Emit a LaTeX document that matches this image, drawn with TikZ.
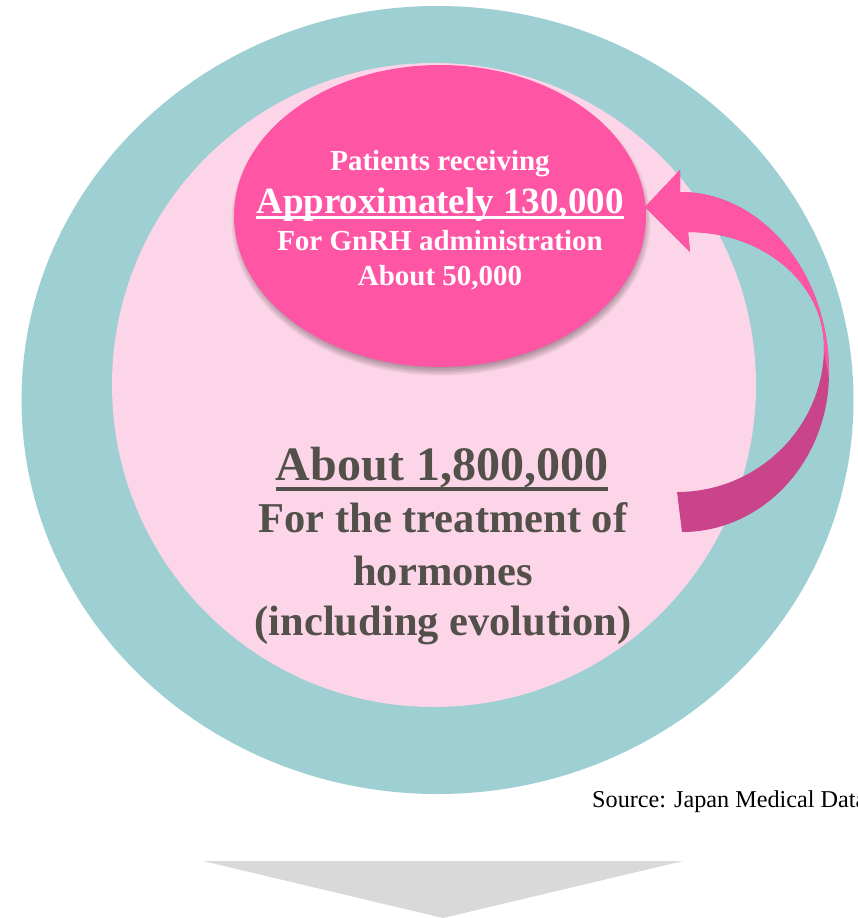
\documentclass[tikz,border=0pt]{standalone}
\usepackage{fontspec}
\setmainfont{Liberation Serif}

\definecolor{ringteal}{RGB}{157,207,211}
\definecolor{softpink}{RGB}{253,213,232}
\definecolor{hotpink}{RGB}{255,85,165}
\definecolor{deeppink}{RGB}{201,68,138}
\definecolor{inkgray}{RGB}{82,80,72}
\definecolor{arrowgray}{RGB}{217,217,217}

% underline with a chosen thickness (#1) and depth of its lower edge (#2)
\newcommand\thickul[3]{\setbox0=\hbox{#3}\rlap{\rule[-#2]{\wd0}{#1}}\box0}

\tikzset{
  bigline/.style={anchor=base, inner sep=0pt, text=inkgray,
    font=\bfseries\fontsize{42.5}{50}\selectfont},
  headline/.style={anchor=base, inner sep=0pt, text=inkgray,
    font=\bfseries\fontsize{48}{54}\selectfont},
  ovalline/.style={anchor=base, inner sep=0pt, text=white,
    font=\bfseries\fontsize{29}{34}\selectfont},
  ovalhead/.style={anchor=base, inner sep=0pt, text=white,
    font=\bfseries\fontsize{37}{42}\selectfont},
  note/.style={anchor=base west, inner sep=0pt, text=black,
    font=\fontsize{24.2}{27}\selectfont}
}

\begin{document}
\begin{tikzpicture}[x=1pt,y=-1pt]
\clip (0,0) rectangle (857,918);
\fill[white] (0,0) rectangle (857,918);

% outer ring and inner disc
\fill[ringteal] (437.5,400) ellipse [x radius=416pt, y radius=394pt];
\fill[softpink] (434,385) circle [radius=322pt];

% soft shadow under the oval
\foreach \d in {-3,-1.5,0,1.5,3,4.5}
  \fill[black, opacity=0.06] (441,221) ellipse [x radius={205pt+\d pt}, y radius={150pt+\d pt}];
\fill[hotpink] (440,216) ellipse [x radius=206pt, y radius=151pt];

% oval text
\node[ovalline] (pr) at (440,170) {Patients receiving};
\node[ovalhead] (ap) at (440,213) {\thickul{2.5pt}{5.5pt}{Approximately 130,000}};
\node[ovalline] (gn) at (440,250) {For GnRH administration};
\node[ovalline] (fz) at (440,285) {About 50,000};

% main text
\node[headline] (ab) at (442,480) {\thickul{4pt}{10.5pt}{About 1,800,000}};
\node[bigline] (tr) at (443,532) {For the treatment of};
\node[bigline] (ho) at (443,585) {hormones};
\node[bigline] (ie) at (443,635) {(including evolution)};

% twisted ribbon arrow: dark back face
\fill[deeppink] (682,532) .. controls (763,532) and (829,461) .. (829,373)
  .. controls (829,273) and (762,192) .. (680,192) -- (680,170) -- (645,207)
  -- (690,252) -- (688,232) .. controls (763,232) and (824,283) .. (824,347)
  .. controls (824,427) and (758,492) .. (677,492) -- cycle;
% bright front face
\begin{scope}
  \clip (600,140) -- (880,140) -- (880,380) -- (829,378) -- (821,335) -- (600,335) -- cycle;
  \fill[hotpink] (682,532) .. controls (763,532) and (829,461) .. (829,373)
    .. controls (829,273) and (762,192) .. (680,192) -- (680,170) -- (645,207)
    -- (690,252) -- (688,232) .. controls (763,232) and (824,283) .. (824,347)
    .. controls (824,427) and (758,492) .. (677,492) -- cycle;
\end{scope}

% source line
\node[note] (src) at (592,807) {Source: Japan Medical Data};

% grey arrow pointing down
\fill[arrowgray] (203,861) -- (683,861) -- (443,918) -- cycle;
\end{tikzpicture}
\end{document}
